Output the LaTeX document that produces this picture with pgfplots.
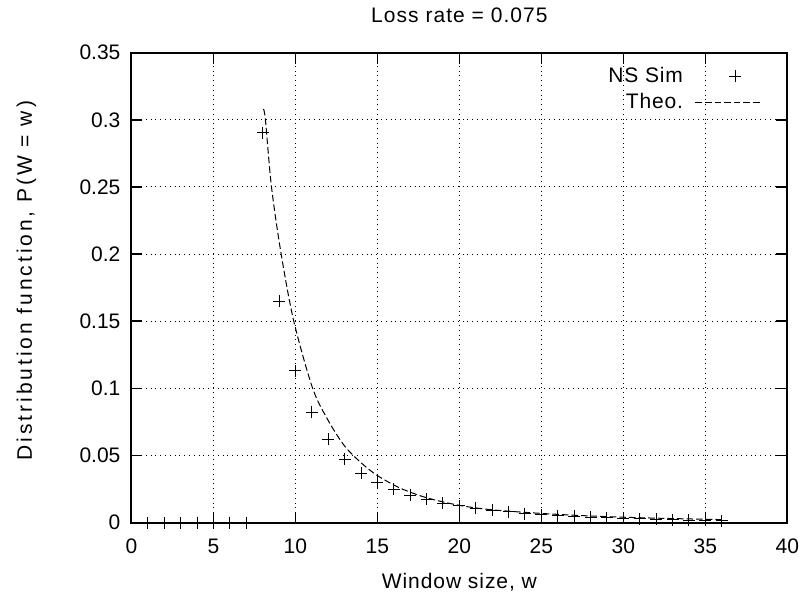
\documentclass[border=0pt]{standalone}
\usepackage{pgfplots}
\pgfplotsset{compat=1.18}
\usepackage{fontspec}
\setmainfont{Liberation Sans}
\newfontfamily\fontttl[LetterSpace=5]{Liberation Sans}
\newfontfamily\fontxl[LetterSpace=4.5]{Liberation Sans}
\newfontfamily\fontyl[LetterSpace=14]{Liberation Sans}
\newfontfamily\fontlg[LetterSpace=4]{Liberation Sans}
\pgfplotsset{
  markleg/.style={legend image code/.code={\path[draw=none] (0pt,-3pt) rectangle (32.5pt,3pt);\draw[##1] plot coordinates {(19.9pt,0pt)};}},
  lineleg/.style={legend image code/.code={\draw[##1] (0pt,0pt) -- (32.5pt,0pt);}},
}
\begin{document}
\begin{tikzpicture}
\begin{axis}[
  scale only axis, width=328pt, height=235pt,
  xmin=0, xmax=40, ymin=0, ymax=0.35,
  xtick={0,5,10,15,20,25,30,35,40},
  ytick={0,0.05,0.1,0.15,0.2,0.25,0.3,0.35},
  /pgf/number format/assume math mode=true,
  ticklabel style={font=\fontsize{10.5}{12}\selectfont},
  yticklabel style={/pgf/number format/fixed, /pgf/number format/precision=2, xshift=-2pt},
  xticklabel style={yshift=-4.5pt},
  tick align=inside, major tick length=5.5pt,
  xtick pos=both, ytick pos=both,
  axis line style={line width=1pt},
  tick style={line width=0.8pt, black},
  grid=major,
  major grid style={dotted, line width=0.5pt, black},
  title={\fontttl Loss rate = 0.075},
  title style={at={(axis description cs:0.5,1.0535)}, anchor=center, font=\fontsize{10.5}{12}\selectfont},
  xlabel={\fontxl Window size, w},
  xlabel style={at={(axis description cs:0.5,-0.1277)}, anchor=center, font=\fontsize{10.5}{12}\selectfont},
  ylabel={\fontyl Distribution function, P(W = w)},
  ylabel style={at={(axis description cs:-0.160,0.515)}, anchor=center, font=\fontsize{10.5}{12}\selectfont},
  legend plot pos=right,
  legend cell align=right,
  legend style={draw=none, fill=none, at={(axis description cs:1,1)}, anchor=north east,
    xshift=-10pt, yshift=-3pt, row sep=0pt, column sep=4pt, font=\fontsize{10.5}{12}\selectfont\fontlg},
]
\addplot[only marks, mark=+, mark size=3pt, black, line width=0.5pt, markleg]
coordinates {
(1,0)(2,0)(3,0)(4,0)(5,0)(6,0)(7,0)
(8,0.2905)(9,0.165)(10,0.113)(11,0.082)(12,0.062)(13,0.0472)(14,0.0366)
(15,0.0299)(16,0.0249)(17,0.0204)(18,0.0174)(19,0.0144)(20,0.0124)
(21,0.0107)(22,0.0092)(23,0.0079)(24,0.0067)(25,0.006)(26,0.0052)
(27,0.0046)(28,0.0041)(29,0.0036)(30,0.0032)(31,0.0028)(32,0.0025)
(33,0.0022)(34,0.0019)(35,0.0016)(36,0.0013)
};
\addlegendentry{NS Sim}
\addplot[black, line width=0.5pt, dash pattern=on 3.3pt off 1.5pt, smooth, no marks, lineleg]
coordinates {
(8.05,0.308)(8.17,0.3)(8.54,0.25)(9.13,0.2)(9.9,0.15)(11.05,0.1)(12,0.076)
(13,0.057)(14,0.0446)(15,0.035)(16.4,0.0256)(18,0.0185)(20,0.0128)(22,0.0095)
(25,0.0068)(28,0.0049)(31,0.0036)(34,0.0027)(36,0.0022)
};
\addlegendentry{Theo.}
\end{axis}
\pgfresetboundingbox
\useasboundingbox ([shift={(-65.75pt,-36.85pt)}]current axis.south west) rectangle ([shift={(10.35pt,26.35pt)}]current axis.north east);
\end{tikzpicture}
\end{document}
